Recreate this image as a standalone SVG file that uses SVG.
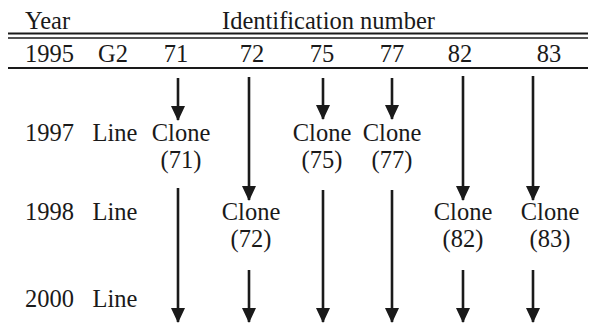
<svg xmlns="http://www.w3.org/2000/svg" width="592" height="329" viewBox="0 0 592 329">
  <style>
    text { font-family: "Liberation Serif", "Times New Roman", serif; font-size: 24.5px; fill: #1a1a1a; }
    .c { text-anchor: middle; }
    .rule { stroke: #1a1a1a; fill: none; }
    .arrow { stroke: #1a1a1a; stroke-width: 2.6; fill: none; marker-end: url(#head); }
  </style>
  <defs>
    <!-- filled triangular head; tip sits on the line end -->
    <marker id="head" markerUnits="userSpaceOnUse" markerWidth="15" markerHeight="14" viewBox="0 0 15 14" refX="14" refY="7" orient="auto">
      <path d="M0,0 L15,7 L0,14 Z" fill="#1a1a1a"/>
    </marker>
  </defs>

  <rect width="592" height="329" fill="#ffffff"/>

  <!-- table rules -->
  <g id="rules">
    <line class="rule" x1="8" y1="33.5" x2="588" y2="33.5" stroke-width="2.2"/>
    <line class="rule" x1="8" y1="38" x2="588" y2="38" stroke-width="1.6"/>
    <line class="rule" x1="8" y1="68" x2="588" y2="68" stroke-width="2"/>
  </g>

  <!-- header -->
  <g id="header">
    <text x="25" y="29">Year</text>
    <text x="222" y="29">Identification number</text>
  </g>

  <!-- year / type column -->
  <g id="years">
    <text x="25" y="62">1995</text>
    <text x="25" y="141">1997</text>
    <text x="25" y="220">1998</text>
    <text x="25" y="307">2000</text>
  </g>
  <g id="types">
    <text class="c" x="113" y="62">G2</text>
    <text class="c" x="115" y="141">Line</text>
    <text class="c" x="115" y="220">Line</text>
    <text class="c" x="115" y="307">Line</text>
  </g>

  <!-- identification numbers -->
  <g id="id71"><text class="c" x="176" y="62">71</text></g>
  <g id="id72"><text class="c" x="252" y="62">72</text></g>
  <g id="id75"><text class="c" x="322" y="62">75</text></g>
  <g id="id77"><text class="c" x="392" y="62">77</text></g>
  <g id="id82"><text class="c" x="460" y="62">82</text></g>
  <g id="id83"><text class="c" x="549" y="62">83</text></g>

  <!-- clones -->
  <g id="clone71"><text class="c" x="181" y="141">Clone</text><text class="c" x="181" y="168">(71)</text></g>
  <g id="clone75"><text class="c" x="322" y="141">Clone</text><text class="c" x="322" y="168">(75)</text></g>
  <g id="clone77"><text class="c" x="392" y="141">Clone</text><text class="c" x="392" y="168">(77)</text></g>
  <g id="clone72"><text class="c" x="251" y="220">Clone</text><text class="c" x="251" y="247">(72)</text></g>
  <g id="clone82"><text class="c" x="463" y="220">Clone</text><text class="c" x="463" y="247">(82)</text></g>
  <g id="clone83"><text class="c" x="550" y="220">Clone</text><text class="c" x="550" y="247">(83)</text></g>

  <!-- connectors -->
  <g id="connectors">
    <line class="arrow" x1="178" y1="78" x2="178" y2="120"/>
    <line class="arrow" x1="178" y1="188" x2="178" y2="322"/>
    <line class="arrow" x1="249" y1="77" x2="249" y2="200"/>
    <line class="arrow" x1="249" y1="270" x2="249" y2="322"/>
    <line class="arrow" x1="323" y1="78" x2="323" y2="119"/>
    <line class="arrow" x1="323" y1="190" x2="323" y2="322"/>
    <line class="arrow" x1="392" y1="78" x2="392" y2="119"/>
    <line class="arrow" x1="392" y1="190" x2="392" y2="322"/>
    <line class="arrow" x1="463" y1="76" x2="463" y2="200"/>
    <line class="arrow" x1="463" y1="270" x2="463" y2="322"/>
    <line class="arrow" x1="533" y1="76" x2="533" y2="200"/>
    <line class="arrow" x1="533" y1="270" x2="533" y2="322"/>
  </g>
</svg>
